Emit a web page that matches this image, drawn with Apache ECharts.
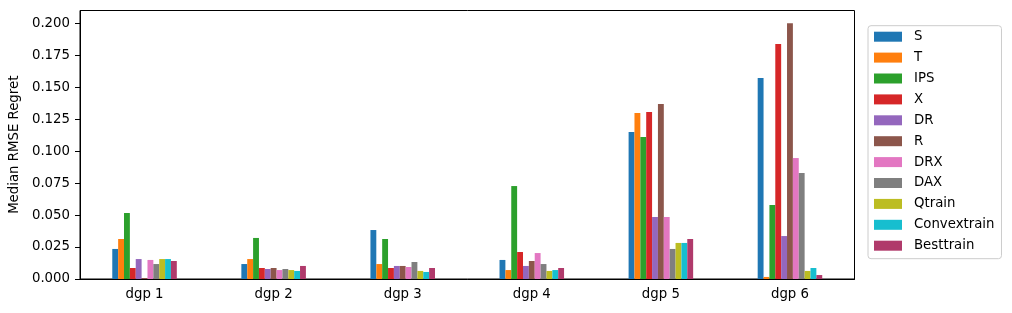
<!DOCTYPE html>
<html>
<head>
<meta charset="utf-8">
<script src="https://cdn.jsdelivr.net/npm/echarts@6/dist/echarts.min.js"></script>
<style>html,body{margin:0;padding:0;background:#fff}#c{width:1012px;height:313px}</style>
</head>
<body>
<div id="c"></div>
<script>
const categories = ['dgp 1', 'dgp 2', 'dgp 3', 'dgp 4', 'dgp 5', 'dgp 6'];
const yTicks = [0, 0.025, 0.05, 0.075, 0.1, 0.125, 0.15, 0.175, 0.2];
const seriesNames = ['S', 'T', 'IPS', 'X', 'DR', 'R', 'DRX', 'DAX', 'Qtrain', 'Convextrain', 'Besttrain'];
const colors = ['#1f77b4', '#ff7f0e', '#2ca02c', '#d62728', '#9467bd', '#8c564b', '#e377c2', '#7f7f7f', '#bcbd22', '#17becf', '#b03a6b'];

const S           = [0.0235, 0.0117, 0.0383, 0.0149, 0.1150, 0.1572];
const T           = [0.0313, 0.0156, 0.0117, 0.0070, 0.1298, 0.0016];
const IPS         = [0.0516, 0.0321, 0.0313, 0.0727, 0.1111, 0.0579];
const X           = [0.0086, 0.0086, 0.0086, 0.0211, 0.1306, 0.1838];
const DR          = [0.0156, 0.0078, 0.0102, 0.0102, 0.0485, 0.0336];
const R           = [0.0008, 0.0086, 0.0102, 0.0141, 0.1369, 0.2000];
const DRX         = [0.0149, 0.0070, 0.0094, 0.0203, 0.0485, 0.0946];
const DAX         = [0.0117, 0.0078, 0.0133, 0.0117, 0.0235, 0.0829];
const Qtrain      = [0.0156, 0.0070, 0.0063, 0.0063, 0.0282, 0.0063];
const Convextrain = [0.0156, 0.0063, 0.0055, 0.0070, 0.0282, 0.0086];
const Besttrain   = [0.0141, 0.0102, 0.0086, 0.0086, 0.0313, 0.0031];

const seriesData = [S, T, IPS, X, DR, R, DRX, DAX, Qtrain, Convextrain, Besttrain];

const font = 'DejaVu Sans';
const fs = 13.3;
const chart = echarts.init(document.getElementById('c'), null, {renderer: 'canvas'});
chart.setOption({
  animation: false,
  color: colors,
  textStyle: {fontFamily: font, color: '#000'},
  grid: {left: 79.5, right: 157.5, top: 10.5, bottom: 34, show: true, borderColor: '#000', borderWidth: 1, containLabel: false},
  legend: {
    orient: 'vertical', left: 868, top: 25.7,
    itemWidth: 28, itemHeight: 10, itemGap: 6.9,
    padding: [4, 7, 6, 6],
    borderColor: '#cccccc', borderWidth: 1, borderRadius: 3,
    backgroundColor: '#fff',
    icon: 'rect',
    textStyle: {fontFamily: font, fontSize: fs, color: '#000', lineHeight: 14, padding: [0, 0, 0, 7]},
    data: seriesNames
  },
  xAxis: {
    type: 'category', data: categories,
    axisLine: {lineStyle: {color: '#000', width: 1}},
    axisTick: {alignWithLabel: true, length: 5, lineStyle: {color: '#000'}},
    axisLabel: {fontFamily: font, fontSize: fs, color: '#000', margin: 9},
    splitLine: {show: false}
  },
  yAxis: {
    type: 'value', min: 0, max: 0.21,
    name: 'Median RMSE Regret', nameLocation: 'middle', nameGap: 59,
    nameTextStyle: {fontFamily: font, fontSize: fs, color: '#000'},
    axisLine: {show: true, lineStyle: {color: '#000', width: 1}},
    axisTick: {show: true, length: 5, lineStyle: {color: '#000'}, customValues: yTicks},
    axisLabel: {fontFamily: font, fontSize: fs, color: '#000', margin: 10, customValues: yTicks, formatter: v => v.toFixed(3)},
    splitLine: {show: false}
  },
  series: seriesNames.map((n, i) => ({
    name: n, type: 'bar', data: seriesData[i],
    barGap: '0%', barCategoryGap: '50%'
  }))
});
</script>
</body>
</html>
